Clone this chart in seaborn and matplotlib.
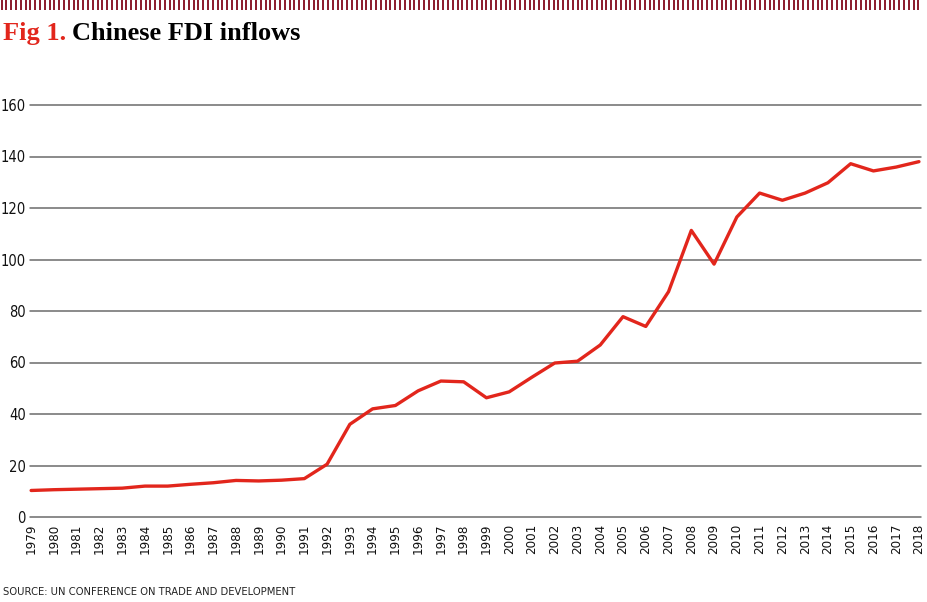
import numpy as np
import pandas as pd
import seaborn as sns
import matplotlib.pyplot as plt

# data (US$ bn)
years = list(range(1979, 2019))
fdi = [10.3, 10.6, 10.8, 11.0, 11.2, 12.0, 12.0, 12.7, 13.3, 14.2,
       14.0, 14.3, 14.9, 20.5, 36.0, 42.0, 43.3, 49.0, 52.8, 52.5,
       46.3, 48.6, 54.3, 59.8, 60.5, 66.8, 77.8, 74.0, 87.5, 111.3,
       98.2, 116.5, 125.8, 123.0, 125.8, 129.8, 137.2, 134.4, 135.9, 138.0]
y_ticks = [0, 20, 40, 60, 80, 100, 120, 140, 160]

df = pd.DataFrame({"Year": years, "FDI": fdi})

sns.set_theme(style="white")
narrow = ["DejaVu Sans"]
serif = ["Liberation Serif", "DejaVu Serif"]
red = "#e2261c"

fig = plt.figure(figsize=(9.27, 6.02), dpi=100)
ax = fig.add_axes([30 / 927, 85 / 602, 891 / 927, 412 / 602])

sns.lineplot(data=df, x="Year", y="FDI", ax=ax, color=red, linewidth=2.4, clip_on=False)

ax.set_xlim(1978.95, 2018.09)
ax.set_ylim(0, 160)
ax.set_yticks(y_ticks)
ax.set_xticks(years)
ax.set_xticklabels([str(y) for y in years], rotation=90, family=narrow,
                   fontstretch="condensed", fontsize=9.5)
ax.set_yticklabels([str(v) for v in y_ticks], family=narrow,
                   fontstretch="condensed", fontsize=10.5)
ax.tick_params(axis="both", length=0, colors="#111111")
ax.tick_params(axis="y", pad=3)
ax.tick_params(axis="x", pad=5)
for v in y_ticks:
    ax.axhline(v, color="#6b6b6b", linewidth=1.1, zorder=0, clip_on=False)
for s in ax.spines.values():
    s.set_visible(False)
ax.set_xlabel("")
ax.set_ylabel("")

# title in two colours
t1 = fig.text(3 / 927, 1 - 40 / 602, "Fig 1.", color=red, family=serif,
              fontsize=19, fontweight="bold")
ax.annotate("Chinese FDI inflows", xy=(1, 0), xycoords=t1, xytext=(4, 0),
            textcoords="offset points", color="black", family=serif,
            fontsize=19, fontweight="bold", va="bottom", annotation_clip=False)

# striped band along the top
band = fig.add_axes([0, 1 - 10 / 602, 921 / 927, 10 / 602])
band.vlines(np.arange(1.5, 921, 4.8), 0, 1, color="#8b1a2b", linewidth=1.4)
band.set_xlim(0, 921)
band.set_ylim(0, 1)
band.axis("off")

fig.text(3 / 927, 1 - 595 / 602, "SOURCE: UN CONFERENCE ON TRADE AND DEVELOPMENT",
         family=narrow, fontstretch="condensed", fontsize=8, color="#222222")

plt.savefig("out.png", dpi=100)
plt.close()
